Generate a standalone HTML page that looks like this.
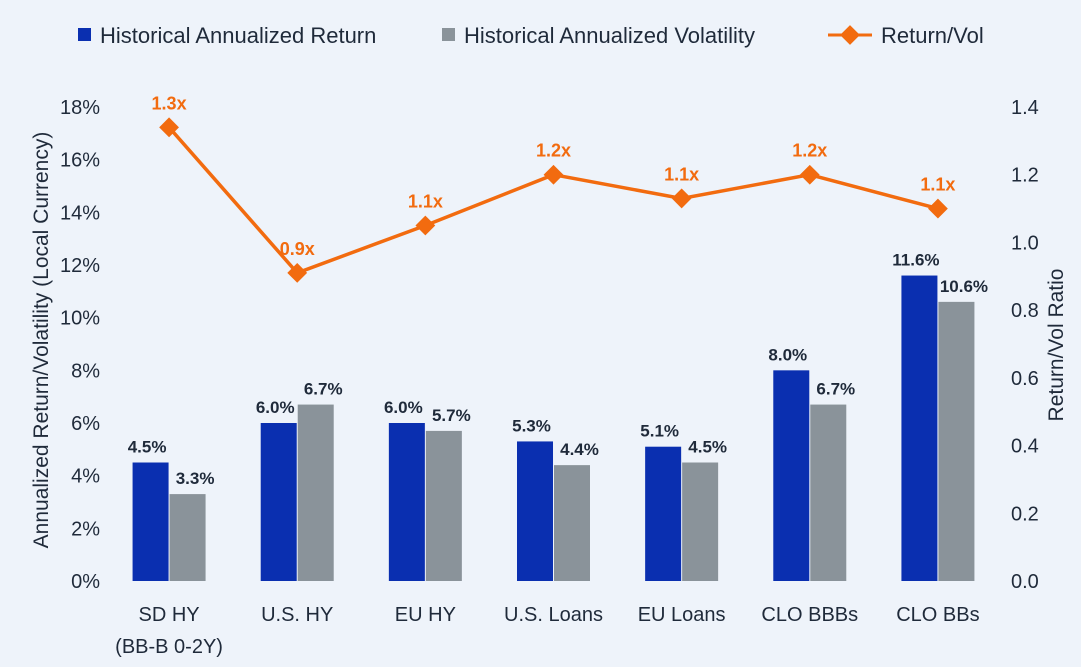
<!DOCTYPE html>
<html><head><meta charset="utf-8"><style>
html,body{margin:0;padding:0;background:#eef3fa;}
svg{display:block;font-family:"Liberation Sans",sans-serif;}
</style></head><body>
<svg id="chart" width="1081" height="667" viewBox="0 0 1081 667" xmlns="http://www.w3.org/2000/svg">
<rect width="1081" height="667" fill="#eef3fa"/>
<g id="legend" font-size="22" fill="#1f2a3a">
 <g><rect x="78" y="28" width="13" height="13" fill="#0a2fb0"/><text x="100" y="43">Historical Annualized Return</text></g>
 <g><rect x="442" y="28" width="13" height="13" fill="#8a939a"/><text x="464" y="43">Historical Annualized Volatility</text></g>
 <g><line x1="828" y1="35" x2="872" y2="35" stroke="#f26b0f" stroke-width="3"/><rect x="843" y="28" width="14" height="14" fill="#f26b0f" transform="rotate(45 850 35)"/><text x="881" y="43">Return/Vol</text></g>
</g>
<text transform="translate(48 340) rotate(-90)" text-anchor="middle" font-size="21" fill="#1f2a3a">Annualized Return/Volatility (Local Currency)</text>
<text transform="translate(1063 345) rotate(-90)" text-anchor="middle" font-size="21" fill="#1f2a3a">Return/Vol Ratio</text>
<g id="g"></g>
</svg>
<script>
const categories=["SD HY","U.S. HY","EU HY","U.S. Loans","EU Loans","CLO BBBs","CLO BBs"];
const returns=[4.5,6.0,6.0,5.3,5.1,8.0,11.6];
const vols=[3.3,6.7,5.7,4.4,4.5,6.7,10.6];
const ratios=[1.34,0.91,1.05,1.20,1.13,1.20,1.10];
const ratioLabels=["1.3x","0.9x","1.1x","1.2x","1.1x","1.2x","1.1x"];
const leftTicks=[0,2,4,6,8,10,12,14,16,18];
const rightTicks=[0,0.2,0.4,0.6,0.8,1.0,1.2,1.4];

const NS="http://www.w3.org/2000/svg";
const g=document.getElementById('g');
const y0=581,yTop=107,pl=105,pr=1002;
const yL=v=>y0-v/18*(y0-yTop);
const yR=v=>y0-v/1.4*(y0-yTop);
const band=(pr-pl)/categories.length;
const xc=i=>pl+band*(i+0.5);
function mk(t,a,txt){const e=document.createElementNS(NS,t);for(const k in a)e.setAttribute(k,a[k]);if(txt!==undefined)e.textContent=txt;g.appendChild(e);return e;}
leftTicks.forEach(v=>{const e=mk('text',{x:100,y:yL(v)+7,'text-anchor':'end','font-size':20,fill:'#1f2a3a'},v+'%');

});
rightTicks.forEach(v=>{const e=mk('text',{x:1011,y:yR(v)+7,'font-size':20,fill:'#1f2a3a'},v.toFixed(1));

});
const bw=36;
categories.forEach((c,i)=>{
 const x=xc(i);
 const b1=mk('rect',{x:x-bw-0.5,y:yL(returns[i]),width:bw,height:y0-yL(returns[i]),fill:'#0a2fb0'});
 
 
 const b2=mk('rect',{x:x+0.5,y:yL(vols[i]),width:bw,height:y0-yL(vols[i]),fill:'#8a939a'});
 
 
 const t1=mk('text',{x:x-bw/2-4,y:yL(returns[i])-10,'text-anchor':'middle','font-size':17,'font-weight':'bold',fill:'#1f2a3a'},returns[i].toFixed(1)+'%');
 
 
 const t2=mk('text',{x:x+bw/2+8,y:yL(vols[i])-10,'text-anchor':'middle','font-size':17,'font-weight':'bold',fill:'#1f2a3a'},vols[i].toFixed(1)+'%');
 
 
 const cl=mk('text',{x:x,y:621,'text-anchor':'middle','font-size':20,fill:'#1f2a3a'},c);
 
 
});
const sub=mk('text',{x:xc(0),y:653,'text-anchor':'middle','font-size':20,fill:'#1f2a3a'},'(BB-B 0-2Y)');


const pts=ratios.map((r,i)=>xc(i)+','+yR(r)).join(' ');
const pl2=mk('polyline',{points:pts,fill:'none',stroke:'#f26b0f','stroke-width':3.5});


ratios.forEach((r,i)=>{
 const x=xc(i),y=yR(r);
 const m=mk('rect',{x:x-7,y:y-7,width:14,height:14,fill:'#f26b0f',transform:`rotate(45 ${x} ${y})`});
 
 
 const t=mk('text',{x:x,y:y-18,'text-anchor':'middle','font-size':18,'font-weight':'bold',fill:'#f26b0f'},ratioLabels[i]);
 
 
});
</script>
</body></html>
